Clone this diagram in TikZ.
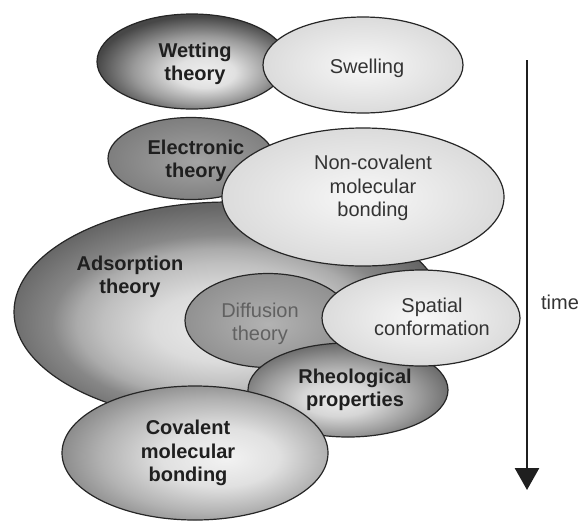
\documentclass[tikz,border=0pt]{standalone}
\usepackage{fontspec}
\setmainfont{Liberation Sans}
\usetikzlibrary{shapes.geometric,arrows.meta}
\pgfdeclareradialshading{wetsh}{\pgfpoint{4bp}{-7bp}}{color(0bp)=(black!6); color(8bp)=(black!12); color(18bp)=(black!40); color(27bp)=(black!72); color(50bp)=(black!80)}
\pgfdeclareradialshading{adssh}{\pgfpoint{-1bp}{-4bp}}{color(0bp)=(black!8); color(8bp)=(black!14); color(14bp)=(black!25); color(17bp)=(black!33); color(20bp)=(black!47); color(26bp)=(black!60); color(50bp)=(black!66)}
\pgfdeclareradialshading{rhesh}{\pgfpoint{-3bp}{-6bp}}{color(0bp)=(black!8); color(9bp)=(black!16); color(20bp)=(black!40); color(29bp)=(black!62); color(50bp)=(black!68)}
\pgfdeclareradialshading{covsh}{\pgfpoint{6bp}{-2bp}}{color(0bp)=(black!5); color(11bp)=(black!12); color(21bp)=(black!30); color(30bp)=(black!50); color(50bp)=(black!55)}
\pgfdeclareradialshading{elesh}{\pgfpoint{2bp}{-2bp}}{color(0bp)=(black!36); color(25bp)=(black!50); color(50bp)=(black!52)}
\pgfdeclareradialshading{difsh}{\pgfpoint{0bp}{-2bp}}{color(0bp)=(black!30); color(25bp)=(black!43); color(50bp)=(black!45)}
\pgfdeclareradialshading{lightsh}{\pgfpoint{0bp}{0bp}}{color(0bp)=(black!3); color(25bp)=(black!14); color(50bp)=(black!15)}
\tikzset{
  blob/.style={ellipse, draw=black!85, line width=1.2pt, inner sep=0pt, shade},
  lbl/.style={font=\fontsize{20}{23.5}\selectfont, align=center, inner sep=0pt},
  lblb/.style={lbl, font=\fontsize{20}{23.5}\selectfont\bfseries, text=black!88},
  lblr/.style={lbl, text=black!80},
}
\begin{document}
\begin{tikzpicture}[x=1pt,y=-1pt]
\useasboundingbox (0,0) rectangle (580,520);
\fill[white] (0,0) rectangle (580,520);
% ellipses, back to front
\node[blob, shading=wetsh, minimum width=190pt, minimum height=95pt] (wet) at (192,61.5) {};
\node[blob, shading=lightsh, minimum width=200pt, minimum height=96pt] (swe) at (363,65) {};
\node[blob, shading=elesh, minimum width=166pt, minimum height=82pt] (ele) at (191,158.5) {};
\node[blob, shading=adssh, minimum width=430pt, minimum height=220pt] (ads) at (229,312) {};
\node[blob, shading=lightsh, minimum width=282pt, minimum height=138pt] (nco) at (363,197) {};
\node[blob, shading=difsh, minimum width=166pt, minimum height=94pt] (dif) at (268,320.5) {};
\node[blob, shading=rhesh, minimum width=200pt, minimum height=94pt] (rhe) at (348,390) {};
\node[blob, shading=lightsh, minimum width=198pt, minimum height=96pt] (spa) at (421,318) {};
\node[blob, shading=covsh, minimum width=266pt, minimum height=134pt] (cov) at (195,453) {};
% labels
\node[lblb] (wetT) at (195,64) {Wetting\\theory};
\node[lblr] (sweT) at (367,68) {Swelling};
\node[lblb] (eleT) at (196,161) {Electronic\\theory};
\node[lblr] (ncoT) at (373,188) {Non-covalent\\molecular\\bonding};
\node[lblb] (adsT) at (130,277) {Adsorption\\theory};
\node[lbl, text=black!62] (difT) at (260,324) {Diffusion\\theory};
\node[lblr] (spaT) at (432,317) {Spatial\\conformation};
\node[lblb] (rheT) at (355,390) {Rheological\\properties};
\node[lblb] (covT) at (188,453) {Covalent\\molecular\\bonding};
% time arrow
\coordinate (tTop) at (527,60);
\coordinate (tBot) at (527,490);
\draw[black!88, line width=2.7pt, -{Triangle[width=24pt,length=22pt]}] (tTop) -- (tBot);
\node[lblr] (timeT) at (560,302) {time};
\end{tikzpicture}
\end{document}
